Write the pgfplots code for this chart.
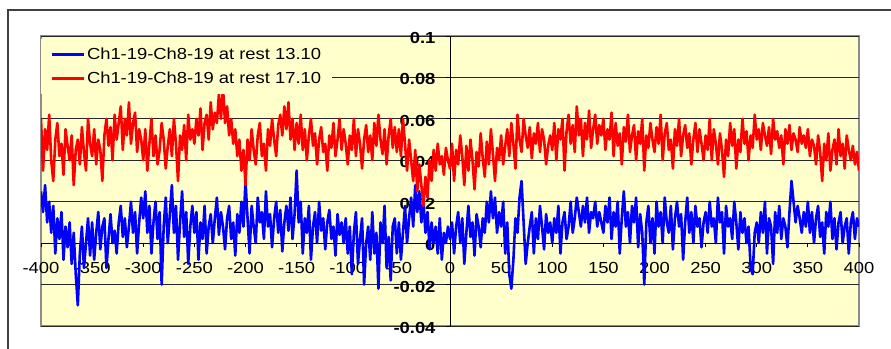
\documentclass[border=0pt]{standalone}
\usepackage{pgfplots}
\pgfplotsset{compat=1.18}
\usepackage{pgfplotstable}
\usepackage{fontspec}
\setmainfont{Liberation Sans}[FakeStretch=1.15]
\definecolor{plotbg}{RGB}{255,255,204}
\definecolor{framegray}{RGB}{140,140,140}

% Ch1-19-Ch8-19 at rest 13.10 (x = -400, -398, ..., 400)
\pgfplotstableread[row sep=\\]{y\\
0.025\\0.015\\0.028\\0.010\\0.020\\0.005\\0.018\\-0.005\\0.012\\0.002\\0.015\\-0.008\\0.008\\-0.002\\0.010\\-0.010\\0.005\\-0.015\\-0.030\\-0.005\\0.008\\-0.012\\0.000\\0.012\\-0.006\\
0.010\\-0.008\\0.005\\0.015\\-0.003\\0.008\\0.012\\-0.012\\0.002\\0.014\\0.000\\0.006\\-0.005\\0.010\\0.018\\0.003\\0.012\\-0.002\\0.008\\0.020\\0.005\\0.015\\-0.005\\0.010\\0.022\\
0.012\\0.025\\0.005\\0.018\\-0.005\\0.010\\0.020\\0.002\\0.015\\-0.020\\0.008\\0.022\\0.000\\0.014\\0.028\\0.005\\0.018\\-0.008\\0.010\\0.025\\0.003\\0.015\\-0.010\\0.008\\0.018\\
0.005\\0.015\\-0.008\\0.010\\0.002\\0.018\\-0.005\\0.008\\0.014\\0.000\\0.012\\0.022\\0.004\\0.015\\0.008\\-0.003\\0.012\\0.018\\0.002\\0.010\\-0.006\\0.014\\0.005\\0.020\\0.008\\
0.030\\0.012\\-0.005\\0.018\\0.008\\0.000\\0.022\\0.010\\0.015\\0.002\\0.025\\0.008\\0.014\\-0.002\\0.012\\0.020\\0.005\\0.016\\-0.004\\0.010\\0.018\\0.006\\0.022\\0.002\\0.014\\
0.035\\0.010\\0.020\\-0.005\\0.012\\0.005\\0.018\\-0.008\\0.008\\0.015\\0.000\\0.020\\0.006\\0.012\\-0.003\\0.010\\0.016\\0.002\\0.008\\-0.006\\0.014\\0.004\\0.010\\0.000\\0.012\\
-0.005\\0.008\\-0.015\\0.005\\0.015\\-0.010\\0.002\\0.012\\-0.020\\0.000\\0.008\\-0.008\\0.015\\-0.005\\0.005\\-0.022\\0.010\\0.000\\0.018\\-0.012\\0.003\\-0.018\\0.008\\0.012\\-0.005\\
0.010\\-0.008\\0.005\\0.018\\0.000\\0.012\\0.022\\0.008\\0.028\\0.015\\0.025\\0.010\\0.020\\0.005\\0.015\\-0.003\\0.010\\0.000\\0.008\\-0.005\\0.012\\-0.008\\0.005\\0.000\\0.008\\
0.002\\0.010\\-0.005\\0.008\\0.015\\0.000\\0.012\\-0.010\\0.005\\0.018\\0.003\\0.010\\-0.006\\0.014\\0.008\\-0.002\\0.012\\0.005\\0.020\\0.010\\0.025\\0.012\\0.022\\0.005\\0.015\\
0.008\\0.020\\-0.005\\0.010\\-0.015\\-0.022\\-0.008\\0.012\\0.005\\0.022\\0.030\\0.010\\-0.010\\0.000\\0.008\\0.015\\-0.005\\0.012\\0.002\\0.018\\0.008\\-0.003\\0.014\\0.005\\0.010\\
0.000\\0.012\\0.005\\0.018\\-0.005\\0.010\\0.015\\0.002\\0.008\\0.020\\0.005\\0.012\\0.022\\0.015\\0.008\\0.018\\0.010\\0.022\\0.005\\0.015\\0.012\\0.020\\0.008\\0.015\\0.010\\
0.005\\0.018\\0.010\\0.022\\0.002\\0.015\\0.008\\0.020\\-0.005\\0.012\\0.025\\0.008\\0.015\\0.000\\0.018\\0.010\\0.022\\-0.002\\0.014\\0.005\\-0.020\\0.010\\0.018\\0.000\\0.012\\
-0.005\\0.020\\0.008\\0.015\\0.000\\0.022\\0.010\\0.005\\0.018\\-0.003\\0.012\\0.020\\0.008\\0.014\\-0.008\\0.010\\0.022\\0.005\\0.015\\0.000\\0.018\\0.008\\0.012\\-0.002\\0.010\\
0.015\\0.005\\0.020\\0.008\\0.012\\0.000\\0.022\\0.010\\0.015\\-0.005\\0.018\\0.008\\0.012\\0.002\\0.020\\0.010\\-0.003\\0.015\\0.005\\0.012\\0.000\\0.008\\-0.012\\-0.015\\0.005\\
0.010\\0.000\\0.015\\0.005\\0.020\\-0.005\\0.012\\0.008\\-0.010\\0.015\\0.005\\0.018\\0.002\\0.012\\0.008\\-0.002\\0.015\\0.030\\0.020\\0.010\\0.018\\0.012\\0.005\\0.015\\0.008\\
0.020\\0.005\\0.015\\0.000\\0.012\\0.018\\0.003\\0.010\\-0.005\\0.015\\0.008\\0.020\\0.002\\0.012\\-0.003\\0.010\\0.015\\0.000\\0.008\\0.012\\-0.005\\0.010\\0.015\\0.002\\0.012\\
0.008\\
}\bluetab

% Ch1-19-Ch8-19 at rest 17.10 (x = -400, -398, ..., 400)
\pgfplotstableread[row sep=\\]{y\\
0.060\\0.035\\0.055\\0.045\\0.062\\0.040\\0.030\\0.050\\0.058\\0.042\\0.048\\0.033\\0.055\\0.047\\0.040\\0.052\\0.028\\0.045\\0.050\\0.038\\0.056\\0.044\\0.035\\0.060\\0.048\\
0.042\\0.055\\0.038\\0.050\\0.045\\0.030\\0.052\\0.060\\0.047\\0.056\\0.040\\0.062\\0.050\\0.058\\0.066\\0.045\\0.060\\0.052\\0.068\\0.048\\0.058\\0.063\\0.044\\0.055\\0.050\\
0.040\\0.055\\0.035\\0.048\\0.060\\0.042\\0.052\\0.038\\0.045\\0.058\\0.050\\0.036\\0.047\\0.055\\0.042\\0.060\\0.048\\0.030\\0.052\\0.045\\0.057\\0.040\\0.062\\0.050\\0.055\\
0.048\\0.060\\0.052\\0.065\\0.045\\0.058\\0.062\\0.050\\0.068\\0.055\\0.063\\0.058\\0.072\\0.060\\0.075\\0.058\\0.066\\0.052\\0.060\\0.048\\0.055\\0.042\\0.050\\0.035\\0.045\\
0.028\\0.050\\0.040\\0.055\\0.045\\0.038\\0.052\\0.058\\0.042\\0.048\\0.035\\0.055\\0.047\\0.060\\0.050\\0.042\\0.057\\0.062\\0.052\\0.066\\0.055\\0.068\\0.050\\0.060\\0.045\\
0.058\\0.048\\0.062\\0.045\\0.055\\0.040\\0.052\\0.060\\0.047\\0.053\\0.038\\0.050\\0.056\\0.044\\0.048\\0.035\\0.052\\0.046\\0.058\\0.042\\0.050\\0.060\\0.045\\0.055\\0.048\\
0.038\\0.052\\0.045\\0.060\\0.042\\0.055\\0.048\\0.036\\0.050\\0.057\\0.044\\0.052\\0.040\\0.058\\0.047\\0.062\\0.050\\0.043\\0.055\\0.038\\0.052\\0.060\\0.046\\0.056\\0.044\\
0.055\\0.042\\0.060\\0.048\\0.035\\0.050\\0.040\\0.030\\0.045\\0.025\\0.038\\0.028\\0.018\\0.032\\0.022\\0.040\\0.030\\0.045\\0.035\\0.048\\0.038\\0.042\\0.033\\0.046\\0.040\\
0.036\\0.048\\0.030\\0.045\\0.038\\0.052\\0.042\\0.028\\0.047\\0.035\\0.050\\0.040\\0.026\\0.044\\0.037\\0.053\\0.041\\0.032\\0.049\\0.038\\0.055\\0.043\\0.030\\0.046\\0.040\\
0.052\\0.038\\0.047\\0.055\\0.042\\0.058\\0.048\\0.036\\0.062\\0.050\\0.044\\0.060\\0.052\\0.046\\0.056\\0.041\\0.053\\0.048\\0.058\\0.044\\0.055\\0.050\\0.038\\0.047\\0.052\\
0.045\\0.058\\0.040\\0.055\\0.050\\0.060\\0.035\\0.054\\0.062\\0.048\\0.057\\0.044\\0.066\\0.052\\0.060\\0.042\\0.058\\0.050\\0.064\\0.046\\0.055\\0.062\\0.048\\0.057\\0.052\\
0.060\\0.045\\0.055\\0.050\\0.063\\0.042\\0.058\\0.047\\0.053\\0.038\\0.056\\0.049\\0.062\\0.044\\0.052\\0.057\\0.040\\0.054\\0.048\\0.060\\0.035\\0.052\\0.046\\0.058\\0.050\\
0.044\\0.056\\0.048\\0.062\\0.040\\0.053\\0.058\\0.045\\0.050\\0.036\\0.055\\0.047\\0.060\\0.042\\0.052\\0.057\\0.046\\0.053\\0.038\\0.050\\0.058\\0.044\\0.055\\0.048\\0.040\\
0.052\\0.045\\0.060\\0.040\\0.055\\0.048\\0.038\\0.053\\0.045\\0.032\\0.050\\0.042\\0.058\\0.047\\0.055\\0.036\\0.050\\0.044\\0.060\\0.048\\0.054\\0.040\\0.052\\0.046\\0.062\\
0.050\\0.055\\0.045\\0.058\\0.052\\0.047\\0.056\\0.043\\0.060\\0.050\\0.054\\0.046\\0.052\\0.038\\0.055\\0.048\\0.057\\0.045\\0.053\\0.050\\0.044\\0.056\\0.048\\0.052\\0.046\\
0.055\\0.042\\0.050\\0.047\\0.038\\0.052\\0.044\\0.030\\0.048\\0.040\\0.053\\0.035\\0.045\\0.050\\0.038\\0.055\\0.042\\0.048\\0.036\\0.052\\0.045\\0.040\\0.047\\0.038\\0.044\\
0.035\\
}\redtab

\begin{document}
\begin{tikzpicture}[x=1pt,y=1pt]
\useasboundingbox (0,0) rectangle (891,348);
\draw[line width=1.6pt, color=black!75] (8,-5) -- (8,338) -- (900,338);
\begin{axis}[
  at={(41pt,22pt)}, anchor=south west,
  width=818pt, height=290pt, scale only axis,
  xmin=-400, xmax=400, ymin=-0.04, ymax=0.1,
  axis lines=middle,
  axis line style={black, line width=0.8pt, -},
  axis background/.style={fill=plotbg, draw=framegray, line width=1.5pt},
  xtick={-400,-350,-300,-250,-200,-150,-100,-50,50,100,150,200,250,300,350,400},
  ytick={-0.04,-0.02,0.02,0.04,0.06,0.08,0.1},
  extra x ticks={0},
  extra y ticks={0},
  extra tick style={grid=none},
  hide obscured x ticks=false,
  hide obscured y ticks=false,
  ymajorgrids,
  grid style={black!85, line width=0.8pt},
  tick style={black, line width=0.8pt},
  major tick length=4pt,
  tick align=outside,
  scaled y ticks=false,
  /pgf/number format/assume math mode=true,
  yticklabel style={font=\bfseries\fontsize{16}{16}\selectfont, /pgf/number format/fixed, /pgf/number format/precision=2, anchor=east, xshift=-7pt, yshift=-2pt},
  xticklabel style={font=\fontsize{16}{16}\selectfont, anchor=north, yshift=-12pt},
  legend style={at={(0,1)}, anchor=north west, yshift=-3pt, draw=none, fill=plotbg,
    font=\fontsize{16}{18}\selectfont, inner xsep=9pt, inner ysep=7pt, row sep=7pt,
    /tikz/every even column/.append style={column sep=4pt}},
  legend cell align=left,
  legend image code/.code={\draw[#1, line width=2.8pt] (0pt,0pt) -- (32pt,0pt);},
]
\addplot[blue, line width=2.6pt, line join=round] table[x expr=\coordindex*2-400, y=y]{\bluetab};
\addlegendentry{Ch1-19-Ch8-19 at rest 13.10}
\addplot[red, line width=2.6pt, line join=round] table[x expr=\coordindex*2-400, y=y]{\redtab};
\addlegendentry{Ch1-19-Ch8-19 at rest 17.10}
\end{axis}
\end{tikzpicture}
\end{document}
